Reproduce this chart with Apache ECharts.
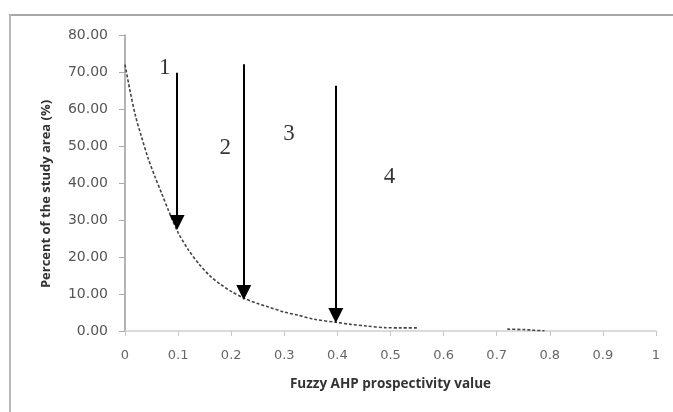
<!DOCTYPE html>
<html>
<head>
<meta charset="utf-8">
<script src="https://cdn.jsdelivr.net/npm/echarts@6/dist/echarts.min.js"></script>
<style>
html,body{margin:0;padding:0;background:#fff;}
#chart{width:673px;height:412px;}
</style>
</head>
<body>
<div id="chart"></div>
<script>
// ---- data ----
var curveX = [0, 0.01, 0.02, 0.03, 0.044, 0.057, 0.069, 0.083, 0.1, 0.12, 0.14, 0.16, 0.18, 0.2, 0.225, 0.25, 0.27, 0.3, 0.325, 0.355, 0.4, 0.425, 0.455, 0.49, 0.52, 0.55, 0.63, 0.72, 0.75, 0.77, 0.79];
var curveY = [72, 64.5, 58, 53, 46.5, 41.5, 37.2, 32.2, 26.6, 21.8, 18, 14.9, 12.6, 10.7, 8.8, 7.4, 6.5, 5.1, 4.3, 3.2, 2.3, 1.8, 1.35, 0.9, 0.85, 0.85, null, 0.5, 0.4, 0.2, 0.05];

var arrowX = [0.098, 0.2236, 0.397];
var arrowTopY = [69.8, 72.1, 66.3];
var arrowTipY = [27.3, 8.4, 2.2];

var zoneLabels = ['1', '2', '3', '4'];
var zoneLabelX = [0.075, 0.189, 0.309, 0.498];
var zoneLabelY = [71.1, 49.5, 53.2, 41.6];

var xTickLabels = ['0', '0.1', '0.2', '0.3', '0.4', '0.5', '0.6', '0.7', '0.8', '0.9', '1'];
var yTickLabels = ['0.00', '10.00', '20.00', '30.00', '40.00', '50.00', '60.00', '70.00', '80.00'];

var xTitle = 'Fuzzy AHP prospectivity value';
var yTitle = 'Percent of the study area (%)';

// ---- build options ----
var curveData = curveX.map(function (x, i) { return [x, curveY[i]]; });
var HEAD_OFFSET = 2.0; // triangle centre above its tip (data units)
var arrowData = arrowX.map(function (x, i) {
  return [{ coord: [x, arrowTopY[i]] }, { coord: [x, arrowTipY[i] + HEAD_OFFSET] }];
});
var labelData = zoneLabels.map(function (t, i) { return { name: t, value: [zoneLabelX[i], zoneLabelY[i]] }; });

var chart = echarts.init(document.getElementById('chart'), null, { renderer: 'canvas' });
chart.setOption({
  animation: false,
  backgroundColor: '#ffffff',
  grid: { left: 125, right: 17, top: 35, bottom: 81, containLabel: false },
  xAxis: {
    type: 'value', min: 0, max: 1, interval: 0.1,
    name: xTitle, nameLocation: 'middle', nameGap: 46,
    nameTextStyle: { fontFamily: 'Open Sans', fontWeight: 'bold', fontSize: 13.5, color: '#333' },
    axisLine: { show: true, lineStyle: { color: '#d0d0d0', width: 1.5 } },
    axisTick: { show: true, length: 5, lineStyle: { color: '#c8c8c8' } },
    axisLabel: {
      margin: 18, fontFamily: 'DejaVu Sans', fontSize: 13, color: '#666',
      formatter: function (v) { return xTickLabels[Math.round(v * 10)]; }
    },
    splitLine: { show: false }
  },
  yAxis: {
    type: 'value', min: 0, max: 80, interval: 10,
    name: yTitle, nameLocation: 'middle', nameGap: 72, nameRotate: 90,
    nameTextStyle: { fontFamily: 'Open Sans', fontWeight: 'bold', fontSize: 13, color: '#333', padding: [0, 22, 0, 0] },
    axisLine: { show: true, lineStyle: { color: '#9a9a9a', width: 1.5 } },
    axisTick: { show: true, length: 6, lineStyle: { color: '#aaa' } },
    axisLabel: {
      margin: 17, fontFamily: 'DejaVu Sans', fontSize: 14, color: '#555',
      formatter: function (v) { return yTickLabels[Math.round(v / 10)]; }
    },
    splitLine: { show: false }
  },
  graphic: [
    { type: 'line', shape: { x1: 9, y1: 15, x2: 673, y2: 15 }, style: { stroke: '#a8a8a8', lineWidth: 2 } },
    { type: 'line', shape: { x1: 10, y1: 15, x2: 10, y2: 412 }, style: { stroke: '#b8b8b8', lineWidth: 2 } }
  ],
  series: [
    {
      type: 'line', data: curveData, showSymbol: false, symbol: 'none', smooth: 0.3, connectNulls: false,
      lineStyle: { color: '#444', width: 1.6, type: [3, 2] },
      markLine: {
        silent: true, animation: false,
        symbol: ['none', 'triangle'], symbolSize: [15, 15],
        label: { show: false },
        lineStyle: { color: '#000', width: 2, type: 'solid' },
        emphasis: { disabled: true },
        data: arrowData
      }
    },
    {
      type: 'scatter', data: labelData, symbolSize: 0, silent: true,
      label: {
        show: true, position: 'inside', formatter: '{b}',
        fontFamily: 'Liberation Serif', fontSize: 23, color: '#000'
      }
    }
  ]
});
</script>
</body>
</html>
